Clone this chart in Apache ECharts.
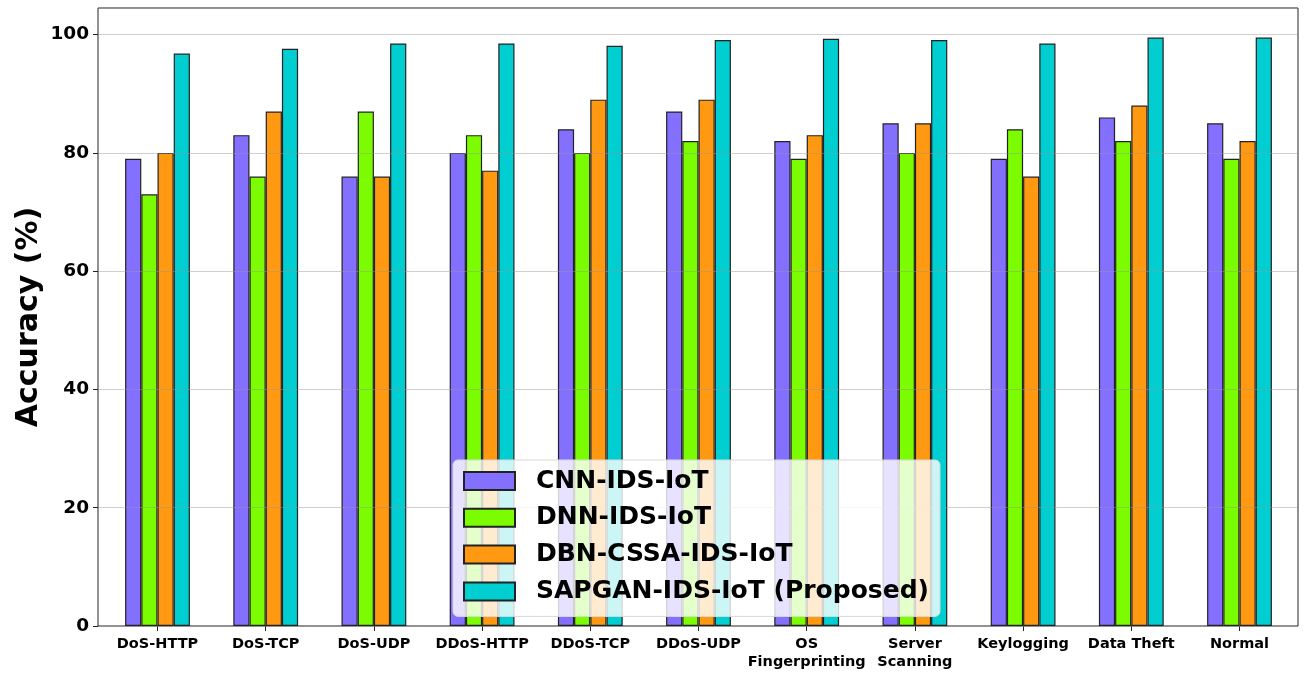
<!DOCTYPE html>
<html>
<head>
<meta charset="utf-8">
<script src="https://cdn.jsdelivr.net/npm/echarts@6/dist/echarts.min.js"></script>
<style>
  html, body { margin: 0; padding: 0; background: #fff; }
  #chart { width: 1308px; height: 675px; }
</style>
</head>
<body>
<div id="chart"></div>
<script>
// Attack categories on the x axis
const categories = ['DoS-HTTP', 'DoS-TCP', 'DoS-UDP', 'DDoS-HTTP', 'DDoS-TCP', 'DDoS-UDP',
  'OS\nFingerprinting', 'Server\nScanning', 'Keylogging', 'Data Theft', 'Normal'];

// Detection accuracy (%) per model
const cnnIdsIot     = [79, 83, 76, 80, 84, 87, 82, 85, 79, 86, 85];
const dnnIdsIot     = [73, 76, 87, 83, 80, 82, 79, 80, 84, 82, 79];
const dbnCssaIdsIot = [80, 87, 76, 77, 89, 89, 83, 85, 76, 88, 82];
const sapganIdsIot  = [96.8, 97.6, 98.5, 98.5, 98.1, 99.1, 99.3, 99.1, 98.5, 99.5, 99.5];

const seriesNames = ['CNN-IDS-IoT', 'DNN-IDS-IoT', 'DBN-CSSA-IDS-IoT', 'SAPGAN-IDS-IoT (Proposed)'];
const seriesColors = ['#8470FF', '#7CFC00', '#FF9912', '#00CED1'];
const seriesValues = [cnnIdsIot, dnnIdsIot, dbnCssaIdsIot, sapganIdsIot];

const yTicks = { min: 0, max: 104.5, interval: 20 };

const FONT = '"DejaVu Sans", sans-serif';

const chart = echarts.init(document.getElementById('chart'), null, { renderer: 'canvas' });

const option = {
  animation: false,
  backgroundColor: '#ffffff',
  grid: [
    // frame grid: border, y labels, gridlines
    { left: 98, right: 10, top: 8, bottom: 49, show: true, borderColor: '#222', borderWidth: 1, backgroundColor: 'transparent' },
    // data grid: bars and category labels
    { left: 103.4, right: 14.4, top: 8, bottom: 49, show: false }
  ],
  xAxis: [
    { type: 'value', gridIndex: 0, min: 0, max: 1, show: false },
    {
      type: 'category', gridIndex: 1, data: categories,
      axisLine: { show: false },
      axisTick: { show: true, alignWithLabel: true, length: 5, lineStyle: { color: '#222', width: 1 } },
      axisLabel: {
        interval: 0, margin: 9, color: '#000',
        fontFamily: FONT, fontWeight: 'bold', fontSize: 14.5, lineHeight: 18
      },
      splitLine: { show: false }
    }
  ],
  yAxis: [
    {
      type: 'value', gridIndex: 0, min: yTicks.min, max: yTicks.max, interval: yTicks.interval,
      z: 3,
      name: 'Accuracy (%)', nameLocation: 'middle', nameGap: 54, nameMoveOverlap: false,
      nameTextStyle: { fontFamily: FONT, fontWeight: 'bold', fontSize: 30, color: '#000' },
      axisLine: { show: false },
      axisTick: { show: true, length: 5, lineStyle: { color: '#222', width: 1 } },
      axisLabel: { margin: 9, color: '#000', fontFamily: FONT, fontWeight: 'bold', fontSize: 18.5, showMaxLabel: false },
      splitLine: { show: true, lineStyle: { color: 'rgba(150,150,150,0.45)', width: 1.2 } }
    },
    { type: 'value', gridIndex: 1, min: yTicks.min, max: yTicks.max, show: false }
  ],
  legend: {
    z: 10,
    orient: 'vertical',
    left: 453, top: 460,
    padding: [8, 11, 12, 10],
    icon: 'rect',
    itemWidth: 51, itemHeight: 18, itemGap: 10.8,
    backgroundColor: 'rgba(255,255,255,0.8)',
    borderColor: '#d8d8d8', borderWidth: 1, borderRadius: 5,
    textStyle: { fontFamily: FONT, fontWeight: 'bold', fontSize: 25, lineHeight: 26, color: '#000', padding: [0, 0, 0, 16] },
    data: seriesNames
  },
  series: seriesNames.map((name, i) => ({
    name: name,
    type: 'bar',
    xAxisIndex: 1, yAxisIndex: 1,
    data: seriesValues[i],
    barWidth: 16.2,
    barGap: '0%',
    itemStyle: { color: seriesColors[i], borderColor: '#222', borderWidth: 1.2 }
  }))
};

chart.setOption(option);
</script>
</body>
</html>
